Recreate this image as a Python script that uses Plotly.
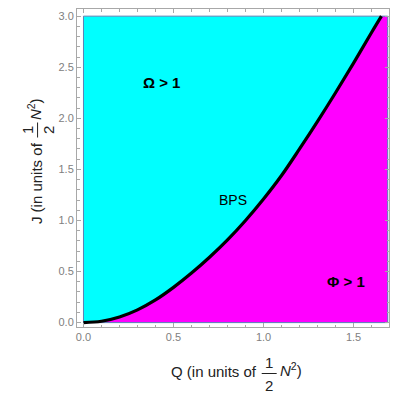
import plotly.graph_objects as go

# BPS curve (Q, J in units of N^2/2)
q_bps = [0.0, 0.1, 0.2, 0.3, 0.4, 0.5, 0.6, 0.7, 0.8, 0.9,
         1.0, 1.1, 1.2, 1.3, 1.4, 1.5, 1.6, 1.655]
j_bps = [0.0, 0.013, 0.055, 0.125, 0.222, 0.345, 0.485, 0.64, 0.81, 1.00,
         1.21, 1.44, 1.70, 1.97, 2.25, 2.54, 2.84, 3.0]

# extent of the plotted region
q_max = 1.69
j_max = 3.0

# region labels
region_text = ["<b>Ω > 1</b>", "<b>Φ > 1</b>", "BPS"]
region_q = [0.436, 1.456, 0.833]
region_j = [2.353, 0.398, 1.198]

x_ticks = [0.0, 0.5, 1.0, 1.5]
y_ticks = [0.0, 0.5, 1.0, 1.5, 2.0, 2.5, 3.0]

FONT = "Liberation Sans, Arial, sans-serif"
CYAN = "#00ffff"
MAGENTA = "#ff00ff"
EDGE = "#5e81b5"
FRAME = "#a8a8a8"

# the page body adds an 8px margin, so the figure is drawn 8px in
OFF = 8
W, H = 404 - OFF, 396 - OFF
L, R, T, B = 77 - OFF, 14.5, 9 - OFF, 69
PW, PH = W - L - R, H - T - B


def px(x):
    # window pixel -> paper x
    return (x - OFF - L) / PW


def py(y):
    # window pixel -> paper y
    return (H - B - (y - OFF)) / PH


fig = go.Figure()

# Omega > 1 region (whole box)
fig.add_trace(go.Scatter(
    x=[0, q_max, q_max, 0, 0], y=[0, 0, j_max, j_max, 0],
    mode="lines", fill="toself", fillcolor=CYAN,
    line=dict(width=0), hoverinfo="skip"))

# Phi > 1 region (below the BPS curve)
fig.add_trace(go.Scatter(
    x=q_bps + [q_max, q_max, 0], y=j_bps + [j_max, 0, 0],
    mode="lines", fill="toself", fillcolor=MAGENTA,
    line=dict(width=0), hoverinfo="skip"))

# region boundary
fig.add_trace(go.Scatter(
    x=[0, q_max, q_max, 0, 0], y=[0, 0, j_max, j_max, 0],
    mode="lines", line=dict(color=EDGE, width=1), hoverinfo="skip"))

# BPS curve
fig.add_trace(go.Scatter(
    x=q_bps, y=j_bps, mode="lines",
    line=dict(color="black", width=3.2, shape="spline"),
    hoverinfo="skip"))

for txt, q, j in zip(region_text, region_q, region_j):
    fig.add_annotation(x=q, y=j, text=txt, showarrow=False,
                       font=dict(family=FONT, size=15 if "<b>" in txt else 14,
                                 color="black"))

title_font = dict(family=FONT, size=15, color="#222222")

# x-axis title: Q (in units of 1/2 N^2)
fig.add_annotation(xref="paper", yref="paper", x=px(259.5), y=py(371.5),
                   xanchor="right", yanchor="middle", showarrow=False,
                   text="Q (in units of", font=title_font)
fig.add_annotation(xref="paper", yref="paper", x=px(269.5), y=py(362),
                   xanchor="center", yanchor="middle", showarrow=False,
                   text="1", font=title_font)
fig.add_annotation(xref="paper", yref="paper", x=px(269.5), y=py(385),
                   xanchor="center", yanchor="middle", showarrow=False,
                   text="2", font=title_font)
fig.add_shape(type="line", xref="paper", yref="paper",
              x0=px(262), x1=px(277), y0=py(373.5), y1=py(373.5),
              line=dict(color="#222222", width=1))
fig.add_annotation(xref="paper", yref="paper", x=px(278), y=py(369),
                   xanchor="left", yanchor="middle", showarrow=False,
                   text="<i>N</i><sup>2</sup>)", font=title_font)

# y-axis title: J (in units of 1/2 N^2)
fig.add_annotation(xref="paper", yref="paper", x=px(36), y=py(140),
                   xanchor="center", yanchor="top", showarrow=False,
                   textangle=-90, text="J (in units of", font=title_font)
fig.add_annotation(xref="paper", yref="paper", x=px(27), y=py(130),
                   xanchor="center", yanchor="middle", showarrow=False,
                   textangle=-90, text="1", font=title_font)
fig.add_annotation(xref="paper", yref="paper", x=px(48), y=py(130),
                   xanchor="center", yanchor="middle", showarrow=False,
                   textangle=-90, text="2", font=title_font)
fig.add_shape(type="line", xref="paper", yref="paper",
              x0=px(37.5), x1=px(37.5), y0=py(122.5), y1=py(137.5),
              line=dict(color="#222222", width=1))
fig.add_annotation(xref="paper", yref="paper", x=px(34), y=py(122),
                   xanchor="center", yanchor="bottom", showarrow=False,
                   textangle=-90, text="<i>N</i><sup>2</sup>)", font=title_font)

axis_common = dict(
    showline=True, mirror="ticks", linecolor=FRAME, linewidth=1,
    ticks="inside", ticklen=4, tickcolor=FRAME, tickwidth=1,
    showgrid=False, zeroline=False, tickformat=".1f",
    tickfont=dict(family=FONT, size=11, color="#808080"),
)

fig.update_xaxes(range=[-0.036, 1.697], tickvals=x_ticks,
                 minor=dict(dtick=0.1, tick0=0, ticks="inside", ticklen=2.5,
                            tickcolor=FRAME, showgrid=False),
                 **axis_common)
fig.update_yaxes(range=[-0.043, 3.07], tickvals=y_ticks,
                 minor=dict(dtick=0.1, tick0=0, ticks="inside", ticklen=2.5,
                            tickcolor=FRAME, showgrid=False),
                 **axis_common)

fig.update_layout(
    width=W, height=H,
    margin=dict(l=L, r=R, t=T, b=B),
    paper_bgcolor="white", plot_bgcolor="white",
    showlegend=False,
)

fig.write_html("out.html")
